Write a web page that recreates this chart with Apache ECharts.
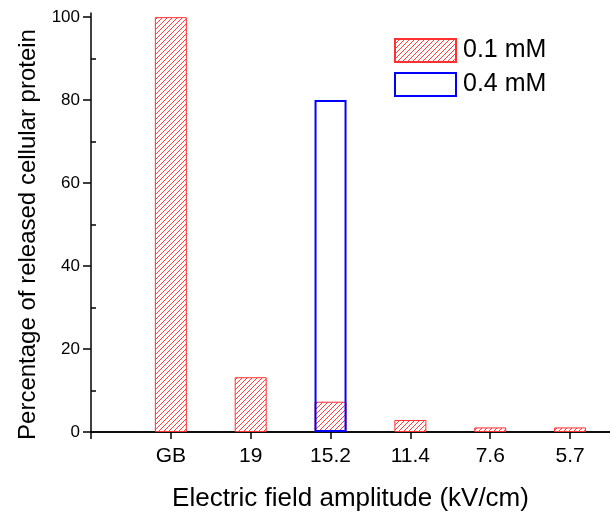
<!DOCTYPE html>
<html>
<head>
<meta charset="utf-8">
<script src="https://cdn.jsdelivr.net/npm/echarts@6/dist/echarts.min.js"></script>
<style>
  html, body { margin: 0; padding: 0; background: #fff; }
  #chart { width: 610px; height: 514px; }
</style>
</head>
<body>
<div id="chart"></div>
<script>
var categories = ["GB", "19", "15.2", "11.4", "7.6", "5.7"];
var low = [100, 13.2, 7.3, 2.9, 1.1, 1.1]; // 0.1 mM
var high = [null, null, 80, null, null, null]; // 0.4 mM
var yTicks = [0, 20, 40, 60, 80, 100];
var yMinor = [10, 30, 50, 70, 90];

// 斜线填充
function hatch() {
  var c = document.createElement("canvas");
  c.width = 5;
  c.height = 5;
  var ctx = c.getContext("2d");
  ctx.fillStyle = "#fff";
  ctx.fillRect(0, 0, 5, 5);
  ctx.strokeStyle = "rgba(255,0,0,0.75)";
  ctx.lineWidth = 1;
  ctx.beginPath();
  ctx.moveTo(-1, 6);
  ctx.lineTo(6, -1);
  ctx.moveTo(-1, 1);
  ctx.lineTo(1, -1);
  ctx.moveTo(4, 6);
  ctx.lineTo(6, 4);
  ctx.stroke();
  return { image: c, repeat: "repeat" };
}

function pairs(arr) {
  return arr.map(function (v, i) {
    return v == null ? null : [i + 1, v];
  }).filter(function (d) { return d; });
}

var font = "Arial, 'Liberation Sans', sans-serif";
var myChart = echarts.init(document.getElementById("chart"));
var option = {
  animation: false,
  textStyle: { fontFamily: font },
  grid: { left: 91, right: 0, top: 13, bottom: 82, containLabel: false, outerBoundsMode: "none" },
  legend: {
    orient: "vertical",
    left: 389,
    top: 33,
    itemWidth: 61,
    itemHeight: 23,
    itemGap: 9,
    icon: "rect",
    textStyle: { fontSize: 25, color: "#000", fontFamily: font, padding: [0, 0, 0, 2] },
    data: ["0.1 mM", "0.4 mM"],
  },
  xAxis: [
    {
      type: "value",
      min: 0,
      max: 6.5,
      interval: 1,
      name: "Electric field amplitude (kV/cm)",
      nameLocation: "middle",
      nameGap: 54,
      nameTextStyle: { fontSize: 26, color: "#000" },
      axisLine: { lineStyle: { color: "#000", width: 1.5 } },
      axisTick: { show: true, length: 7, lineStyle: { color: "#000", width: 1.5 }, customValues: [0, 1, 2, 3, 4, 5, 6] },
      axisLabel: {
        fontSize: 21,
        color: "#000",
        margin: 14,
        customValues: [1, 2, 3, 4, 5, 6],
        formatter: function (v) { return categories[v - 1] || ""; },
      },
      splitLine: { show: false },
    },
    {
      type: "value",
      position: "top",
      min: 0,
      max: 6.5,
      axisLine: { show: true, lineStyle: { color: "#000", width: 1.5 } },
      axisTick: { show: false },
      axisLabel: { show: false },
      splitLine: { show: false },
    },
  ],
  yAxis: [
    {
      type: "value",
      min: 0,
      max: 101,
      interval: 20,
      name: "Percentage of released cellular protein",
      nameLocation: "middle",
      nameGap: 50,
      nameTextStyle: { fontSize: 24, color: "#000", padding: [0, 24, 0, 0] },
      axisLine: { show: true, lineStyle: { color: "#000", width: 1.5 } },
      axisTick: { show: true, length: 8, lineStyle: { color: "#000", width: 1.5 }, customValues: yTicks },
      axisLabel: { fontSize: 17, color: "#000", margin: 11, customValues: yTicks },
      splitLine: { show: false },
    },
    {
      type: "value",
      min: 0,
      max: 101,
      interval: 10,
      axisLine: { show: false },
      axisTick: { show: true, length: 5, lineStyle: { color: "#000", width: 1.5 }, customValues: yMinor },
      axisLabel: { show: false },
      splitLine: { show: false },
    },
  ],
  series: [
    {
      name: "0.1 mM",
      type: "bar",
      barWidth: 32,
      barGap: "-100%",
      data: pairs(low),
      itemStyle: { color: hatch(), borderColor: "#ff3030", borderWidth: 1 },
    },
    {
      name: "0.4 mM",
      type: "bar",
      barWidth: 32,
      barGap: "-100%",
      data: pairs(high),
      itemStyle: { color: "rgba(255,255,255,0)", borderColor: "#0000ff", borderWidth: 2 },
    },
  ],
};
myChart.setOption(option);
window.addEventListener("resize", function () {
  myChart.resize();
});
</script>
</body>
</html>
